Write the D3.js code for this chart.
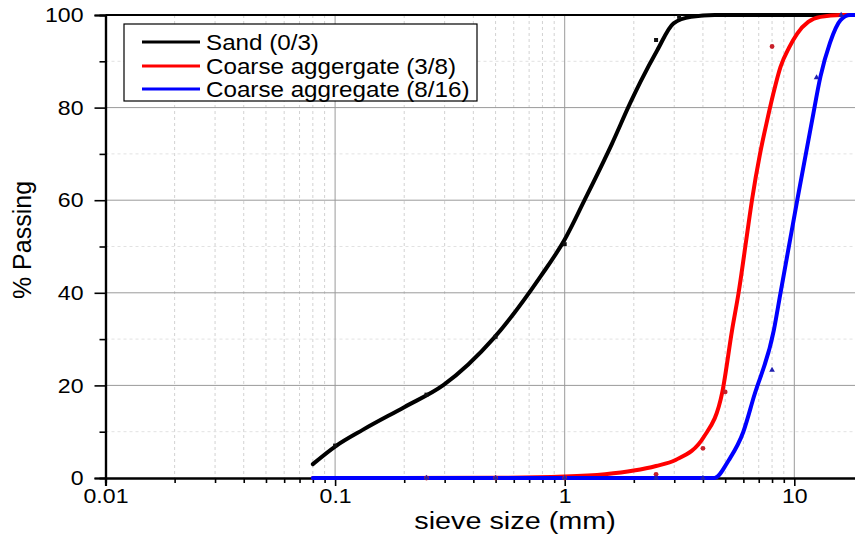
<!DOCTYPE html>
<html>
<head>
<meta charset="utf-8">
<script src="https://cdn.jsdelivr.net/npm/d3@7"></script>
<style>
  html, body { margin: 0; padding: 0; background: #fff; }
  svg { display: block; font-family: "Liberation Sans", Arial, sans-serif; }
</style>
</head>
<body>
<svg id="chart" width="855" height="535"></svg>
<script>
// Sieve analysis: fitted gradation curves (mm vs % passing)
const seriesNames = ["Sand (0/3)", "Coarse aggergate (3/8)", "Coarse aggregate (8/16)"];
const seriesColors = ["#000000", "#ff0000", "#0000ff"];
const markerColors = ["#111111", "#c8202a", "#2020b0"];

// fitted curve for sand (0/3)
const sandCurveSize    = [0.08, 0.1, 0.133, 0.2, 0.297, 0.491, 0.784, 1.0, 1.22, 1.6, 1.93, 2.14, 2.53, 2.98, 3.55, 4.5, 6, 20];
const sandCurvePassing = [3.0, 6.8, 10.5, 15.3, 20.1, 30.2, 43.5, 51.5, 60, 72, 81, 85.6, 92.4, 98.2, 99.6, 100, 100, 100];
// fitted curve for coarse aggregate (3/8)
const c38CurveSize    = [0.08, 0.5, 1.0, 1.5, 2.0, 2.5, 3.04, 4.04, 4.86, 5.36, 5.72, 6.2, 6.54, 7.09, 7.62, 8.1, 8.71, 9.5, 10.3, 11.5, 13.0, 16, 20];
const c38CurvePassing = [0, 0.05, 0.3, 0.8, 1.6, 2.6, 3.9, 8.9, 18.6, 32, 40, 52, 60, 70, 77.3, 83, 88.8, 93, 96, 98.5, 99.6, 100, 100];
// fitted curve for coarse aggregate (8/16)
const c816CurveSize    = [0.08, 1.0, 4.49, 5.19, 6.0, 6.67, 8.15, 8.71, 10.3, 11.96, 13.0, 14.3, 15.9, 17.5, 20];
const c816CurvePassing = [0, 0, 0, 3.9, 10, 17.6, 32, 40, 60, 77.3, 86.7, 94, 98.9, 100, 100];

// measured sieve results
const sandPointSize    = [0.1, 0.25, 0.5, 1, 2.5, 3.15];
const sandPointPassing = [7.0, 18.0, 30.5, 50.5, 94.6, 99.6];
const c38PointSize    = [0.25, 0.5, 1, 2.5, 4, 5, 8];
const c38PointPassing = [0, 0, 0, 0.8, 6.4, 18.6, 93.2];
const c816PointSize    = [0.25, 0.5, 1, 2.5, 4, 8, 12.5, 16];
const c816PointPassing = [0, 0, 0, 0, 0, 23.3, 86.5, 100];

const xTickValues = [0.01, 0.1, 1, 10];
const xTickLabels = ["0.01", "0.1", "1", "10"];
const yTickValues = [0, 20, 40, 60, 80, 100];
const yTickLabels = ["0", "20", "40", "60", "80", "100"];

const svg = d3.select("#chart");
const plotLeft = 105.5, plotTop = 15, plotBottom = 478, decade = 229.6;
const x = d3.scaleLog().domain([0.01, 20]).range([plotLeft, plotLeft + decade * Math.log10(2000)]);
const y = d3.scaleLinear().domain([0, 100]).range([plotBottom, plotTop]);
const plotRight = x.range()[1];
const stretch = "scale(1.1,1)";

// grid: minor dashed, major solid
const minorX = [];
[0.01, 0.1, 1, 10].forEach(d => { for (let k = 2; k <= 9; k++) if (d * k <= 20) minorX.push(d * k); });
const grid = svg.append("g");
grid.selectAll(".mx").data(minorX).join("line")
  .attr("x1", d => x(d)).attr("x2", d => x(d)).attr("y1", plotTop).attr("y2", plotBottom)
  .attr("stroke", "#d2d2d2").attr("stroke-width", 1).attr("stroke-dasharray", "3,3");
grid.selectAll(".my").data([10, 30, 50, 70, 90]).join("line")
  .attr("x1", plotLeft).attr("x2", plotRight).attr("y1", d => y(d)).attr("y2", d => y(d))
  .attr("stroke", "#e2e2e2").attr("stroke-width", 1).attr("stroke-dasharray", "3,3");
grid.selectAll(".Mx").data([0.1, 1, 10]).join("line")
  .attr("x1", d => x(d)).attr("x2", d => x(d)).attr("y1", plotTop).attr("y2", plotBottom)
  .attr("stroke", "#9a9a9a").attr("stroke-width", 1);
grid.selectAll(".My").data([20, 40, 60, 80]).join("line")
  .attr("x1", plotLeft).attr("x2", plotRight).attr("y1", d => y(d)).attr("y2", d => y(d))
  .attr("stroke", "#9a9a9a").attr("stroke-width", 1);

// axes
const yAxis = d3.axisLeft(y).tickValues(yTickValues).tickFormat((d, i) => yTickLabels[i]).tickSize(11).tickPadding(9);
const yMinor = d3.axisLeft(y).tickValues([10, 30, 50, 70, 90]).tickFormat("").tickSize(6);
const xAxis = d3.axisBottom(x).tickValues(xTickValues).tickFormat((d, i) => xTickLabels[i]).tickSize(8).tickPadding(2);
const xMinor = d3.axisBottom(x).tickValues(minorX).tickFormat("").tickSize(5);

function styleAxis(g) {
  g.select(".domain").attr("stroke", "#000").attr("stroke-width", 2.2);
  g.selectAll(".tick line").attr("stroke", "#000").attr("stroke-width", 1.6);
  g.selectAll("text").attr("font-size", 21).attr("fill", "#000")
    .attr("font-family", "Liberation Sans, Arial, sans-serif").attr("transform", stretch);
}
svg.append("g").attr("transform", `translate(${plotLeft},0)`).call(yMinor).call(styleAxis);
svg.append("g").attr("transform", `translate(${plotLeft},0)`).call(yAxis).call(styleAxis);
svg.append("g").attr("transform", `translate(0,${plotBottom})`).call(xMinor).call(styleAxis);
svg.append("g").attr("transform", `translate(0,${plotBottom})`).call(xAxis).call(styleAxis);
svg.append("line").attr("x1", plotLeft).attr("x2", plotRight).attr("y1", plotTop).attr("y2", plotTop)
  .attr("stroke", "#000").attr("stroke-width", 1.8);

// curves
const curves = [
  [sandCurveSize, sandCurvePassing],
  [c38CurveSize, c38CurvePassing],
  [c816CurveSize, c816CurvePassing]
];
const line = d3.line().x(d => x(d[0])).y(d => y(d[1])).curve(d3.curveMonotoneX);
curves.forEach((c, i) => {
  const pts = c[0].map((s, j) => [s, c[1][j]]);
  svg.append("path").datum(pts).attr("d", line)
    .attr("fill", "none").attr("stroke", seriesColors[i]).attr("stroke-width", 4)
    .attr("stroke-linejoin", "round").attr("stroke-linecap", "round");
});

// markers
const zip = (a, b) => a.map((s, j) => [s, b[j]]);
svg.append("g").selectAll("rect").data(zip(sandPointSize, sandPointPassing)).join("rect")
  .attr("x", d => x(d[0]) - 2).attr("y", d => y(d[1]) - 2).attr("width", 4).attr("height", 4)
  .attr("fill", markerColors[0]);
svg.append("g").selectAll("circle").data(zip(c38PointSize, c38PointPassing)).join("circle")
  .attr("cx", d => x(d[0])).attr("cy", d => y(d[1])).attr("r", 2.4)
  .attr("fill", markerColors[1]);
svg.append("g").selectAll("path").data(zip(c816PointSize, c816PointPassing)).join("path")
  .attr("transform", d => `translate(${x(d[0])},${y(d[1])})`)
  .attr("d", d3.symbol(d3.symbolTriangle, 14))
  .attr("fill", markerColors[2]);

// axis titles
svg.append("text").attr("transform", "translate(515,521) scale(1.2,1)")
  .attr("text-anchor", "middle").attr("dy", "0.35em")
  .attr("font-size", 24).text("sieve size (mm)");
svg.append("text").attr("transform", "translate(22,240) rotate(-90)")
  .attr("text-anchor", "middle").attr("dy", "0.35em")
  .attr("font-size", 25).text("% Passing");

// legend
const lg = svg.append("g");
lg.append("rect").attr("x", 124).attr("y", 24).attr("width", 353).attr("height", 77)
  .attr("fill", "#fff").attr("stroke", "#000").attr("stroke-width", 1.2);
const legendY = [42, 66, 89];
seriesNames.forEach((name, i) => {
  lg.append("line").attr("x1", 142).attr("x2", 200).attr("y1", legendY[i]).attr("y2", legendY[i])
    .attr("stroke", seriesColors[i]).attr("stroke-width", 3);
  lg.append("text").attr("transform", `translate(206,${legendY[i]}) ${stretch}`)
    .attr("dy", "0.35em").attr("font-size", 22).text(name);
});
</script>
</body>
</html>
